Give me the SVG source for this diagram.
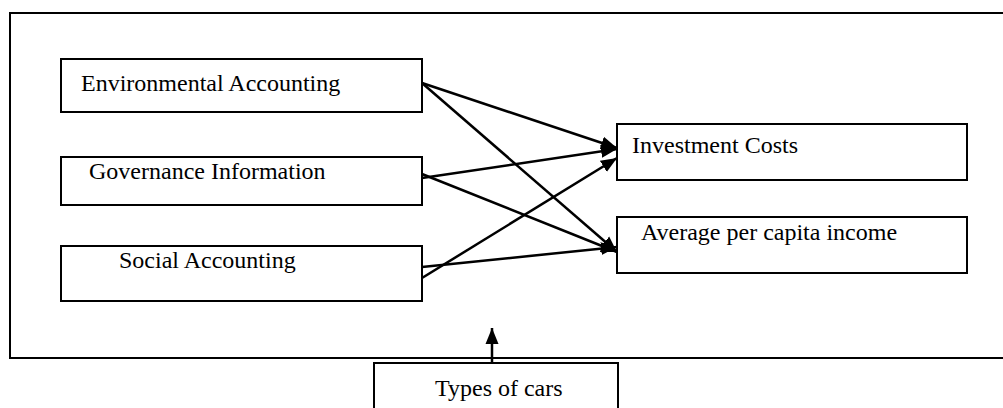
<svg xmlns="http://www.w3.org/2000/svg" width="1003" height="408" viewBox="0 0 1003 408">
<style>
  .box { fill: #fff; stroke: #000; stroke-width: 2; }
  .frame { fill: none; stroke: #000; stroke-width: 2; }
  .lbl { font-family: "Liberation Serif", "Times New Roman", serif; font-size: 24px; fill: #000; }
  .conn { stroke: #000; stroke-width: 2.5; fill: none; marker-end: url(#ah); }
</style>
<defs>
  <marker id="ah" markerUnits="userSpaceOnUse" markerWidth="17" markerHeight="14" refX="16" refY="6.5" orient="auto" viewBox="0 0 17 13">
    <path d="M0,0 L16,6.5 L0,13 Z" fill="#000"/>
  </marker>
</defs>
<rect width="1003" height="408" fill="#fff"/>
<g id="frame">
  <path class="frame" d="M1010,13 L10,13 L10,358 L1010,358"/>
</g>
<g id="connectors">
  <line class="conn" x1="422" y1="83" x2="617" y2="148"/>
  <line class="conn" x1="422" y1="83" x2="617" y2="252"/>
  <line class="conn" x1="422" y1="178" x2="617" y2="149"/>
  <line class="conn" x1="422" y1="174" x2="617" y2="252"/>
  <line class="conn" x1="422" y1="267" x2="617" y2="247"/>
  <line class="conn" x1="422" y1="278" x2="617" y2="158"/>
  <line class="conn" x1="492" y1="363" x2="492" y2="328"/>
</g>
<g id="node-env">
  <rect class="box" x="61" y="59" width="361" height="53"/>
  <text class="lbl" x="81" y="91">Environmental Accounting</text>
</g>
<g id="node-gov">
  <rect class="box" x="61" y="157" width="361" height="48"/>
  <text class="lbl" x="89" y="179">Governance Information</text>
</g>
<g id="node-soc">
  <rect class="box" x="61" y="246" width="361" height="55"/>
  <text class="lbl" x="119" y="268">Social Accounting</text>
</g>
<g id="node-inv">
  <rect class="box" x="617" y="124" width="350" height="56"/>
  <text class="lbl" x="632" y="153">Investment Costs</text>
</g>
<g id="node-avg">
  <rect class="box" x="617" y="217" width="350" height="56"/>
  <text class="lbl" x="641" y="240">Average per capita income</text>
</g>
<g id="node-cars">
  <rect class="box" x="374" y="363" width="244" height="60"/>
  <text class="lbl" x="435" y="396">Types of cars</text>
</g>
</svg>
